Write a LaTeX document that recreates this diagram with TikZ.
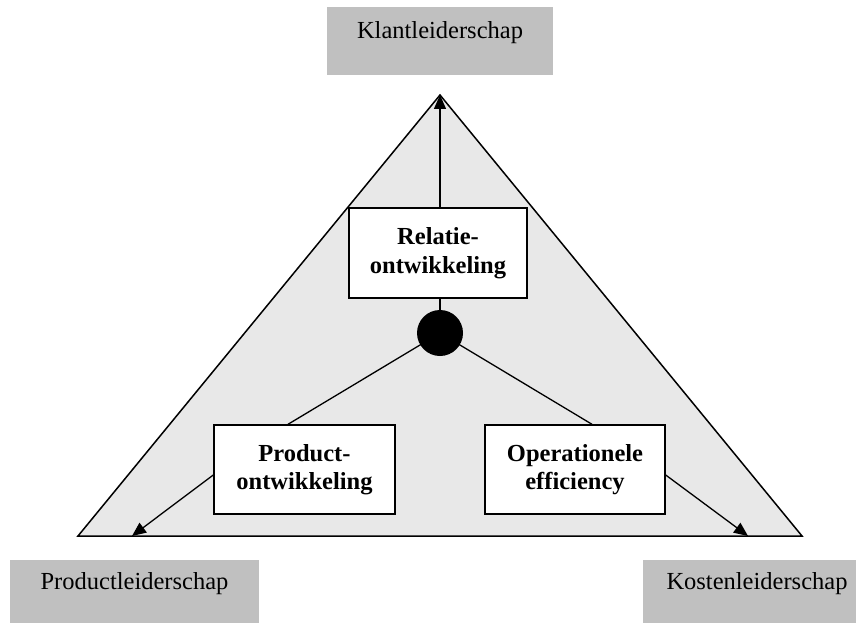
\documentclass[tikz,border=0pt]{standalone}
\usepackage{fontspec}
\setmainfont{Liberation Serif}
\usetikzlibrary{arrows.meta,calc,backgrounds}
\definecolor{leadgray}{HTML}{C0C0C0}
\definecolor{fieldgray}{HTML}{E8E8E8}
\begin{document}
\begin{tikzpicture}[x=1pt,y=-1pt,
  leadbox/.style={fill=leadgray, draw=none, inner sep=0pt,
    font=\fontsize{24.5}{28}\selectfont, text height=17pt, text depth=21pt},
  stratbox/.style={draw=black, fill=white, line width=1.4pt, inner sep=0pt,
    align=center, font=\fontsize{24.5}{28.5}\selectfont\bfseries},
  conn/.style={line width=1.3pt},
  tip/.style={conn, -{Triangle[length=14pt,width=12pt]}}]
\useasboundingbox (0,0) rectangle (856,623);

% corner labels of the triangle
\node[leadbox, minimum width=226pt, minimum height=68pt] (klant) at (440,41) {Klantleiderschap};
\node[leadbox, minimum width=249pt, minimum height=63pt] (prodlead) at (134.5,591.5) {Productleiderschap};
\node[leadbox, minimum width=228pt, minimum height=63pt] (kosten) at (757,591.5) {Kostenleiderschap};

% corners of the triangle and connector ends
\coordinate (apex) at (440,95);
\coordinate (cornerL) at (78,536);
\coordinate (cornerR) at (802,536);
\coordinate (tipL) at (132,536);
\coordinate (tipR) at (748,536);

% strategy boxes
\node[stratbox, minimum width=178pt, minimum height=90pt] (relatie) at (438,253) {Relatie-\\ontwikkeling};
\node[stratbox, minimum width=181pt, minimum height=89pt] (product) at (304.5,469.5) {Product-\\ontwikkeling};
\node[stratbox, minimum width=180pt, minimum height=89pt] (oper) at (575,469.5) {Operationele\\efficiency};

% central hub
\node[circle, fill=black, minimum size=46pt, inner sep=0pt] (dot) at (440,333) {};

\coordinate (ptop) at ($(product.north)+(-16.5,0)$);
\coordinate (pside) at ($(product.west)+(0,5.5)$);
\coordinate (otop) at ($(oper.north)+(17,0)$);
\coordinate (oside) at ($(oper.east)+(0,5.5)$);

% field and connectors lie beneath the boxes
\begin{pgfonlayer}{background}
  \fill[fieldgray] (apex) -- (cornerR) -- (cornerL) -- cycle;
  \draw[tip] (dot.center) -- (apex);
  \draw[conn] (dot.center) -- (ptop);
  \draw[tip] (pside) -- (tipL);
  \draw[conn] (dot.center) -- (otop);
  \draw[tip] (oside) -- (tipR);
  \draw[line width=1.5pt, line join=miter] (apex) -- (cornerR) -- (cornerL) -- cycle;
\end{pgfonlayer}
\end{tikzpicture}
\end{document}
